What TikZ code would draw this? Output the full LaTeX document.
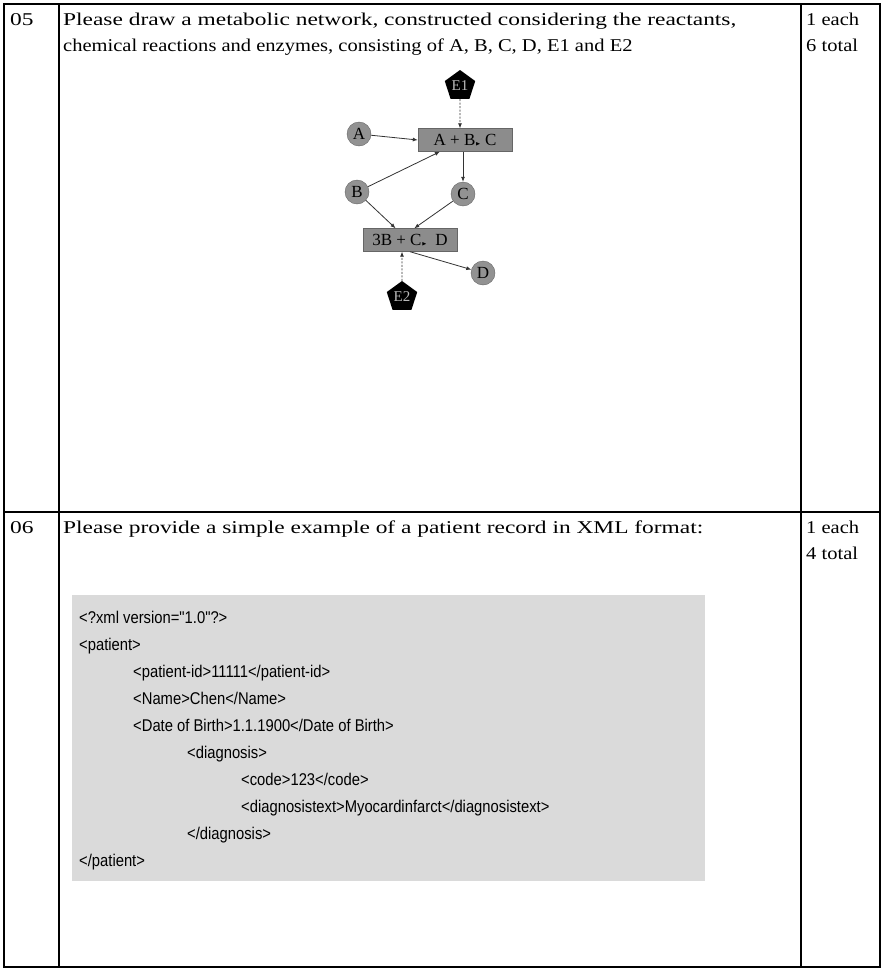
\documentclass[tikz,border=0pt]{standalone}
\usepackage{amssymb}
\usepackage{fontspec}
\setmainfont{Liberation Serif}
\newfontfamily\qfont[FakeStretch=1.3]{Liberation Serif}
\newfontfamily\qnarrow[FakeStretch=1.14]{Liberation Serif}
\newfontfamily\xmlfont[FakeStretch=0.87,Ligatures=TeXOff]{Liberation Sans}
\usetikzlibrary{shapes.geometric,arrows.meta}

\definecolor{metabgray}{RGB}{146,146,146}
\definecolor{rxngray}{RGB}{140,140,140}
\definecolor{xmlgray}{RGB}{218,218,218}

\begin{document}
\begin{tikzpicture}[x=1pt,y=-1pt,
	rule/.style={line width=2.3pt},
	qtext/.style={anchor=base west,inner sep=0pt,font=\qfont\fontsize{18}{26}\selectfont},
	qnote/.style={qtext,font=\qnarrow\fontsize{18}{26}\selectfont},
	metab/.style={circle,draw=black!60,fill=metabgray,minimum size=24pt,inner sep=0pt,font=\fontsize{17}{17}\selectfont},
	rxn/.style={rectangle,draw=black!60,fill=rxngray,minimum width=94pt,minimum height=23pt,inner sep=0pt,font=\fontsize{17}{17}\selectfont},
	enzyme/.style={regular polygon,regular polygon sides=5,fill=black,minimum size=32pt,inner sep=0pt,text=gray!55,font=\fontsize{15}{15}\selectfont},
	flow/.style={-{Latex[length=5pt,width=4pt]},line width=0.8pt,draw=black!80},
	catal/.style={flow,dash pattern=on 2pt off 1.5pt},
	xmlline/.style={anchor=base west,inner sep=0pt,font=\xmlfont\fontsize{17}{17}\selectfont}]

	\useasboundingbox (0,0) rectangle (884,969);

	% table
	\draw[rule] (4,4) rectangle (880,967);
	\draw[rule] (59,4) -- (59,967);
	\draw[rule] (801,4) -- (801,967);
	\draw[rule] (4,512) -- (880,512);

	% row 05
	\node[qtext] (num05) at (10,25) {05};
	\node[qtext] (ask05a) at (63,25) {Please draw a metabolic network, constructed considering the reactants,};
	\node[qnote] (ask05b) at (63,51) {chemical reactions and enzymes, consisting of A, B, C, D, E1 and E2};
	\node[qnote] (pts05a) at (806,25) {1 each};
	\node[qnote] (pts05b) at (806,51) {6 total};

	% metabolic network
	\node[enzyme] (E1) at (460,86) {E1};
	\node[rxn] (rxn1) at (465,140) {A + B{\tiny$\blacktriangleright$} C};
	\node[metab] (A) at (359,134) {A};
	\node[metab] (B) at (357,192) {B};
	\node[metab] (C) at (463,194) {C};
	\node[rxn] (rxn2) at (410,240) {3B + C{\tiny$\blacktriangleright$}\ \ D};
	\node[metab] (D) at (483,273) {D};
	\node[enzyme] (E2) at (402,297) {E2};

	\draw[catal] (E1) -- (E1 |- rxn1.north);
	\draw[flow] (A) -- (rxn1.west);
	\draw[flow] (B) -- (rxn1.205);
	\draw[flow] (rxn1.south -| C) -- (C);
	\draw[flow] (B) -- (rxn2.141);
	\draw[flow] (C) -- (rxn2.70);
	\draw[flow] (rxn2.south) -- (D);
	\draw[catal] (E2) -- (E2 |- rxn2.south);

	% row 06
	\node[qtext] (num06) at (10,533) {06};
	\node[qtext] (ask06) at (63,533) {Please provide a simple example of a patient record in XML format:};
	\node[qnote] (pts06a) at (806,533) {1 each};
	\node[qnote] (pts06b) at (806,559) {4 total};

	% patient record
	\fill[xmlgray] (72,595) rectangle (705,881);
	\node[xmlline] (xml1) at (79,623) {<?xml version="1.0"?>};
	\node[xmlline] (xml2) at (79,650) {<patient>};
	\node[xmlline] (xml3) at (133,677) {<patient-id>11111</patient-id>};
	\node[xmlline] (xml4) at (133,704) {<Name>Chen</Name>};
	\node[xmlline] (xml5) at (133,731) {<Date of Birth>1.1.1900</Date of Birth>};
	\node[xmlline] (xml6) at (187,758) {<diagnosis>};
	\node[xmlline] (xml7) at (241,785) {<code>123</code>};
	\node[xmlline] (xml8) at (241,812) {<diagnosistext>Myocardinfarct</diagnosistext>};
	\node[xmlline] (xml9) at (187,839) {</diagnosis>};
	\node[xmlline] (xml10) at (79,866) {</patient>};

\end{tikzpicture}
\end{document}
